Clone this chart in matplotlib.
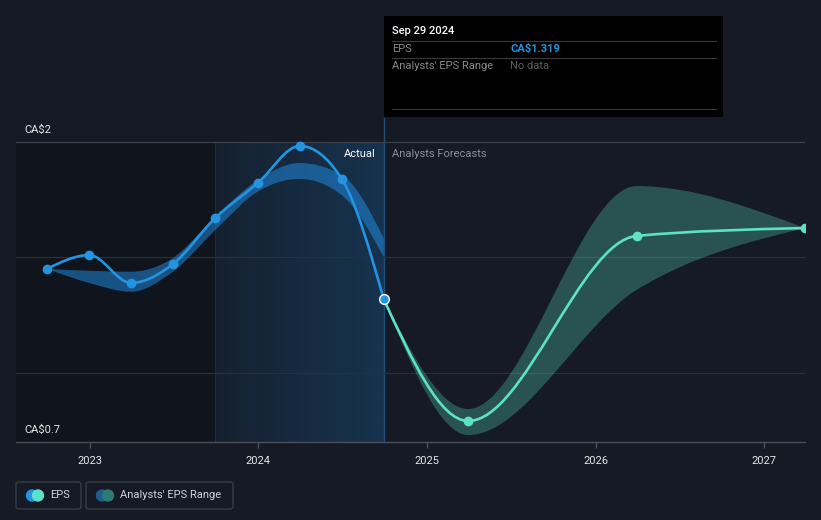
"""EPS history and analyst forecast chart (dark theme)."""
import matplotlib
matplotlib.use("Agg")
import matplotlib.dates as mdates
import matplotlib.pyplot as plt
import numpy as np
import pandas as pd
from matplotlib.patches import FancyBboxPatch, PathPatch
from matplotlib.path import Path

plt.rcParams["font.family"] = ["Roboto", "DejaVu Sans"]

# ── data ────────────────────────────────────────────────────────────────────
actual_dates = ["2022-09-30", "2022-12-31", "2023-03-31", "2023-06-30", "2023-09-30",
                "2023-12-31", "2024-03-31", "2024-06-30", "2024-09-29"]
actual_eps = [1.450, 1.510, 1.389, 1.471, 1.671, 1.822, 1.983, 1.840, 1.319]

past_range_dates = actual_dates
past_range_high = [1.450, 1.442, 1.438, 1.497, 1.676, 1.835, 1.909, 1.857, 1.584]
past_range_low = [1.450, 1.389, 1.351, 1.438, 1.619, 1.785, 1.840, 1.770, 1.502]

forecast_dates = ["2024-09-29", "2025-03-31", "2026-03-31", "2027-03-31"]
forecast_eps = [1.319, 0.791, 1.593, 1.627]
forecast_high = [1.319, 0.843, 1.809, 1.627]
forecast_low = [1.319, 0.730, 1.359, 1.627]

y_ticks = [0.7, 2.0]
y_tick_labels = ["CA$0.7", "CA$2"]
grid_levels = [1.0, 1.5, 2.0]

BG = "#151a24"
BLUE = "#2394df"
TEAL = "#5de2c6"


def _num(dates):
    return mdates.date2num(pd.to_datetime(dates))


def _tangents(x, y):
    """Monotone-X tangents (same rule as d3.curveMonotoneX)."""
    x, y = np.asarray(x, float), np.asarray(y, float)
    h = np.diff(x)
    s = np.diff(y) / h
    n = len(x)
    if n == 2:
        return np.array([s[0], s[0]])
    t = np.zeros(n)
    for i in range(1, n - 1):
        p = (s[i - 1] * h[i] + s[i] * h[i - 1]) / (h[i - 1] + h[i])
        t[i] = (np.sign(s[i - 1]) + np.sign(s[i])) * min(abs(s[i - 1]), abs(s[i]), 0.5 * abs(p))
    t[0] = (3 * s[0] - t[1]) / 2
    t[-1] = (3 * s[-1] - t[-2]) / 2
    return t


def _segments(x, y, reverse=False):
    t = _tangents(x, y)
    verts = []
    idx = range(len(x) - 1)
    if reverse:
        for i in reversed(idx):
            dx = (x[i + 1] - x[i]) / 3
            verts += [(x[i + 1] - dx, y[i + 1] - dx * t[i + 1]), (x[i] + dx, y[i] + dx * t[i]), (x[i], y[i])]
    else:
        for i in idx:
            dx = (x[i + 1] - x[i]) / 3
            verts += [(x[i] + dx, y[i] + dx * t[i]), (x[i + 1] - dx, y[i + 1] - dx * t[i + 1]), (x[i + 1], y[i + 1])]
    return verts


def curve_path(x, y):
    verts = [(x[0], y[0])] + _segments(x, y)
    codes = [Path.MOVETO] + [Path.CURVE4] * (len(verts) - 1)
    return Path(verts, codes)


def band_path(x, hi, lo):
    up = [(x[0], hi[0])] + _segments(x, hi)
    down = [(x[-1], lo[-1])] + _segments(x, lo, reverse=True)
    verts = up + down + [(x[0], hi[0])]
    codes = ([Path.MOVETO] + [Path.CURVE4] * (len(up) - 1)
             + [Path.LINETO] + [Path.CURVE4] * (len(down) - 1) + [Path.CLOSEPOLY])
    return Path(verts, codes)


# ── figure ──────────────────────────────────────────────────────────────────
fig = plt.figure(figsize=(8.21, 5.2), dpi=100, facecolor=BG)
ax = fig.add_axes([16 / 821, 78 / 520, 789 / 821, 324 / 520])
ax.set_facecolor(BG)

ax_num = _num(actual_dates)
fc_num = _num(forecast_dates)
x_left, x_right = _num(["2022-07-25", "2027-03-31"])
y_bot, y_top = 0.7, 2.0 + 24 * 1.3 / 300
x_split = _num(["2023-09-30"])[0]
x_now = ax_num[-1]

# shaded areas
ax.fill_between([x_left, x_split], 0.7, 2.0, color="black", alpha=0.2, lw=0, zorder=0)
grad = np.zeros((1, 256, 4))
grad[..., :3] = matplotlib.colors.to_rgb("#1a6fb5")
grad[..., 3] = np.linspace(0.08, 0.3, 256)
ax.imshow(grad, extent=[x_split, x_now, 0.7, 2.0], aspect="auto", zorder=0.5, interpolation="bilinear")
ax.plot([x_split, x_split], [0.7, 2.0], color="#1d2c3b", lw=0.8, zorder=0.6)
ax.plot([x_now, x_now], [0.7, y_top], color="#1f4f78", lw=1.0, zorder=0.6, clip_on=False)

for g in grid_levels:
    ax.axhline(g, color="#3b4049" if g == 2.0 else "#2a2f38", lw=0.9, zorder=0.7)

# bands
ax.add_patch(PathPatch(band_path(ax_num, past_range_high, past_range_low),
                       facecolor="#2196f3", alpha=0.48, lw=0, zorder=1))
ax.add_patch(PathPatch(band_path(fc_num, forecast_high, forecast_low),
                       facecolor="#5ad6c0", alpha=0.3, lw=0, zorder=1))

# lines
ax.add_patch(PathPatch(curve_path(ax_num, actual_eps), facecolor="none", edgecolor=BLUE,
                       lw=1.9, zorder=3, capstyle="round"))
ax.add_patch(PathPatch(curve_path(fc_num, forecast_eps), facecolor="none", edgecolor=TEAL,
                       lw=1.9, zorder=3, capstyle="round"))
ax.plot(ax_num[:-1], actual_eps[:-1], "o", color=BLUE, ms=6, zorder=4, clip_on=False)
ax.plot(fc_num[1:], forecast_eps[1:], "o", color=TEAL, ms=6, zorder=4)
ax.plot(ax_num[-1:], actual_eps[-1:], "o", color=BLUE, mec="white", mew=1.0, ms=7, zorder=5)

ax.set_xlim(x_left, x_right)
ax.set_ylim(y_bot, y_top)

# axes styling
for side in ("top", "right", "left"):
    ax.spines[side].set_visible(False)
ax.spines["bottom"].set_color("#4a4f58")
ax.spines["bottom"].set_linewidth(1.0)
ax.xaxis.set_major_locator(mdates.YearLocator())
ax.xaxis.set_major_formatter(mdates.DateFormatter("%Y"))
ax.tick_params(axis="x", colors="#4a4f58", length=4, width=1, labelcolor="#e6e6e6",
               labelsize=8, pad=6)
ax.set_yticks([])

for val, lab in zip(y_ticks, y_tick_labels):
    ax.annotate(lab, (8 / 789, val), xycoords=ax.get_yaxis_transform(),
                xytext=(0, 5), textcoords="offset points", color="#e6e6e6",
                fontsize=8, va="bottom", ha="left")
ax.annotate("Actual", (x_now, 1.95), xytext=(-6, 0), textcoords="offset points",
            color="#ffffff", fontsize=8, ha="right", va="center")
ax.annotate("Analysts Forecasts", (x_now, 1.95), xytext=(6, 0), textcoords="offset points",
            color="#8a8f98", fontsize=8, ha="left", va="center")


def fx(px):
    return px / 821


def fy(py):
    return 1 - py / 520


# tooltip box
fig.patches.append(matplotlib.patches.Rectangle((fx(384), fy(117)), 339 / 821, 101 / 520,
                                                transform=fig.transFigure, facecolor="black",
                                                edgecolor="none", zorder=10))
for yy in (41, 58, 109):
    fig.add_artist(matplotlib.lines.Line2D([fx(392), fx(716)], [fy(yy), fy(yy)],
                                           color="#3a3a3a", lw=0.8, zorder=11))
fig.text(fx(392), fy(31), "Sep 29 2024", color="white", fontsize=8, fontweight="medium",
         va="center", zorder=12)
fig.text(fx(392), fy(49), "EPS", color="#8a8a8a", fontsize=8, va="center", zorder=12)
fig.text(fx(510), fy(49), "CA$1.319", color=BLUE, fontsize=8, fontweight="bold", va="center", zorder=12)
fig.text(fx(392), fy(66), "Analysts' EPS Range", color="#8a8a8a", fontsize=8, va="center", zorder=12)
fig.text(fx(510), fy(66), "No data", color="#5e5e5e", fontsize=8, va="center", zorder=12)

# legend
legend_items = [("EPS", BLUE, TEAL, 16, 81), ("Analysts' EPS Range", "#1f5b8e", "#2e7b72", 86, 233)]
for label, c1, c2, x0, x1 in legend_items:
    fig.patches.append(FancyBboxPatch((fx(x0), fy(509)), fx(x1 - x0), 27 / 520,
                                      boxstyle="round,pad=0,rounding_size=0.004",
                                      transform=fig.transFigure, facecolor="none",
                                      edgecolor="#3b4049", lw=0.9))
    fig.add_artist(matplotlib.patches.Ellipse((fx(x0 + 16), fy(495.5)), 11 / 821, 11 / 520,
                                              transform=fig.transFigure, color=c1))
    fig.add_artist(matplotlib.patches.Ellipse((fx(x0 + 22), fy(495.5)), 11 / 821, 11 / 520,
                                              transform=fig.transFigure, color=c2))
    fig.text(fx(x0 + 34), fy(495.5), label, color="#d0d3d8", fontsize=8, va="center")

fig.savefig("out.png", dpi=100, facecolor=BG)
